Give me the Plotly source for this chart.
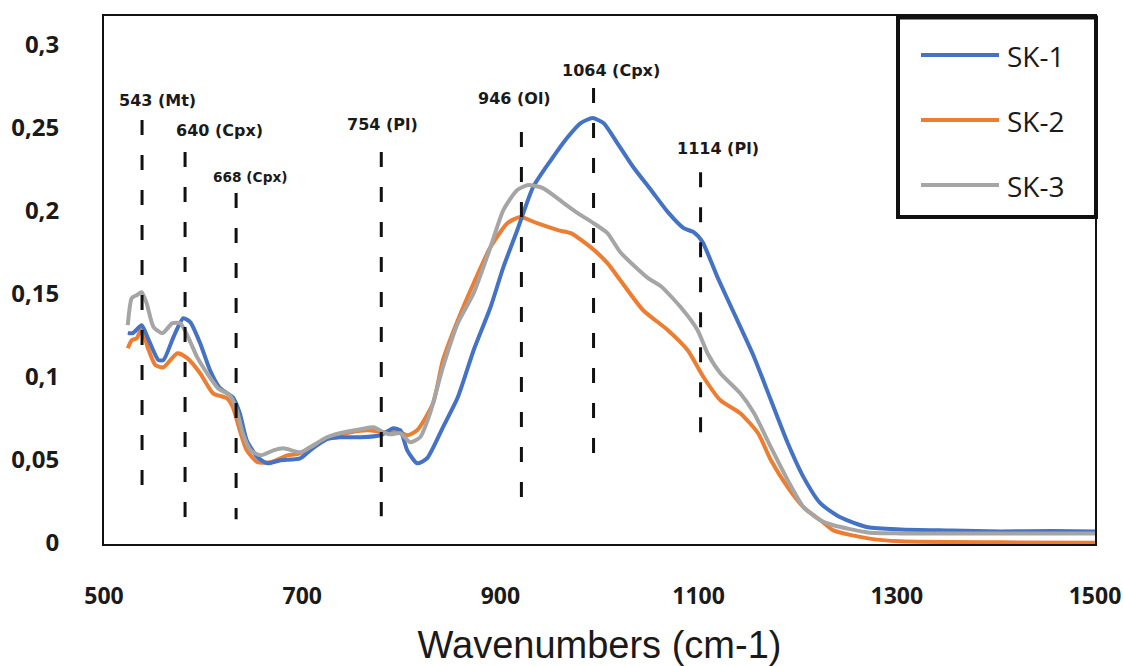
import plotly.graph_objects as go

# ---------------- data ----------------
series_names = ["SK-1", "SK-2", "SK-3"]
series_colors = ["#4472C4", "#ED7D31", "#A5A5A5"]

sk1_x = [524, 529, 538, 544, 555, 560, 570, 580, 587, 597, 607, 617, 630, 637, 644, 655, 665, 678,
         698, 708, 725, 738, 759, 779, 792, 799, 806, 816, 826, 842, 857, 873, 890, 903, 917, 933,
         951, 968, 981, 993, 1004, 1018, 1034, 1052, 1069, 1085, 1095, 1104, 1119, 1139, 1156,
         1173, 1190, 1206, 1223, 1243, 1271, 1304, 1355, 1405, 1456, 1500]
sk1_y = [0.1262, 0.1262, 0.1310, 0.1237, 0.1099, 0.1099, 0.1237, 0.1352, 0.1328, 0.1201, 0.1038,
         0.0930, 0.0875, 0.0779, 0.0616, 0.0513, 0.0477, 0.0495, 0.0507, 0.0555, 0.0622, 0.0634,
         0.0634, 0.0646, 0.0688, 0.0676, 0.0555, 0.0477, 0.0507, 0.0694, 0.0875, 0.1159, 0.1418,
         0.1660, 0.1883, 0.2143, 0.2306, 0.2445, 0.2529, 0.2559, 0.2529, 0.2408, 0.2264, 0.2125,
         0.1992, 0.1895, 0.1871, 0.1811, 0.1600, 0.1340, 0.1117, 0.0857, 0.0598, 0.0392, 0.0235,
         0.0151, 0.0091, 0.0078, 0.0072, 0.0066, 0.0068, 0.0066]

sk2_x = [524, 528, 533, 538, 544, 552, 560, 574, 584, 597, 610, 624, 630, 637, 644, 655, 668, 685,
         698, 708, 728, 749, 766, 782, 799, 806, 816, 832, 842, 857, 873, 890, 907, 920, 937, 958,
         971, 991, 1008, 1021, 1044, 1069, 1089, 1105, 1122, 1142, 1160, 1173, 1190, 1206, 1223,
         1236, 1271, 1304, 1405, 1500]
sk2_y = [0.1171, 0.1219, 0.1231, 0.1292, 0.1177, 0.1068, 0.1056, 0.1141, 0.1111, 0.1020, 0.0899,
         0.0869, 0.0815, 0.0676, 0.0555, 0.0483, 0.0483, 0.0525, 0.0537, 0.0573, 0.0634, 0.0664,
         0.0676, 0.0664, 0.0664, 0.0646, 0.0676, 0.0839, 0.1099, 0.1340, 0.1563, 0.1781, 0.1925,
         0.1962, 0.1925, 0.1883, 0.1865, 0.1781, 0.1684, 0.1581, 0.1400, 0.1280, 0.1159, 0.0996,
         0.0857, 0.0779, 0.0658, 0.0495, 0.0332, 0.0211, 0.0133, 0.0072, 0.0024, 0.0006, 0.0000,
         -0.0003]

sk3_x = [524, 528, 533, 538, 543, 550, 559, 569, 577, 585, 594, 604, 615, 627, 634, 640, 648, 658,
         671, 681, 698, 708, 725, 738, 759, 772, 782, 789, 799, 809, 819, 829, 842, 857, 873, 890,
         903, 917, 928, 943, 964, 978, 994, 1008, 1021, 1049, 1062, 1082, 1099, 1109, 1122, 1142,
         1156, 1173, 1190, 1206, 1223, 1236, 1271, 1304, 1405, 1500]
sk3_y = [0.1310, 0.1473, 0.1491, 0.1509, 0.1443, 0.1298, 0.1262, 0.1322, 0.1322, 0.1237, 0.1117,
         0.1020, 0.0930, 0.0887, 0.0797, 0.0658, 0.0555, 0.0525, 0.0555, 0.0567, 0.0543, 0.0573,
         0.0634, 0.0658, 0.0682, 0.0694, 0.0664, 0.0652, 0.0658, 0.0604, 0.0634, 0.0779, 0.1056,
         0.1322, 0.1503, 0.1781, 0.2004, 0.2125, 0.2155, 0.2137, 0.2046, 0.1986, 0.1925, 0.1865,
         0.1750, 0.1594, 0.1545, 0.1418, 0.1280, 0.1141, 0.1020, 0.0899, 0.0779, 0.0573, 0.0374,
         0.0211, 0.0133, 0.0103, 0.0060, 0.0054, 0.0054, 0.0054]

# band markers: label text, drawn position (wavenumber), dashed line top/bottom, label anchor
band_labels = ["543 (Mt)", "640 (Cpx)", "668 (Cpx)", "754 (Pl)", "946 (Ol)", "1064 (Cpx)", "1114 (Pl)"]
band_pos = [538.4, 581.8, 633.3, 779.8, 921.2, 994.0, 1102.0]
band_top = [0.2547, 0.2354, 0.2107, 0.2354, 0.2475, 0.2740, 0.2233]
band_bottom = [0.0344, 0.0151, 0.0139, 0.0157, 0.0272, 0.0537, 0.0543]
label_x = [553.5, 617.0, 647.5, 781.0, 914.0, 1012.0, 1120.0]
label_y = [0.2668, 0.2487, 0.2203, 0.2523, 0.2680, 0.2849, 0.2378]
label_size = [16, 16, 13.7, 16, 16, 16, 16]

x_ticks = [500, 700, 900, 1100, 1300, 1500]
y_ticks = [0, 0.05, 0.1, 0.15, 0.2, 0.25, 0.3]
y_ticktext = ["0", "0,05", "0,1", "0,15", "0,2", "0,25", "0,3"]
x_title = "Wavenumbers (cm-1)"

# ---------------- figure ----------------
fig = go.Figure()
all_x = [sk1_x, sk2_x, sk3_x]
all_y = [sk1_y, sk2_y, sk3_y]
# draw order: orange, blue, gray on top (as in the reference)
for i in [1, 0, 2]:
    fig.add_trace(go.Scatter(
        x=all_x[i], y=all_y[i], mode="lines", name=series_names[i],
        line=dict(color=series_colors[i], width=4, shape="spline", smoothing=0.6),
        showlegend=False, hoverinfo="x+y+name"))

shapes = []
annotations = []
for lbl, xp, yt, yb, lx, ly, fs in zip(band_labels, band_pos, band_top, band_bottom,
                                        label_x, label_y, label_size):
    shapes.append(dict(type="line", xref="x", yref="y", x0=xp, x1=xp, y0=yt, y1=yb,
                       line=dict(color="#111111", width=3, dash="15px,20px"), layer="above"))
    annotations.append(dict(x=lx, y=ly, xref="x", yref="y", text=lbl, showarrow=False,
                            font=dict(family="DejaVu Sans", size=fs, color="#1a1a1a",
                                      weight="bold"),
                            xanchor="center", yanchor="middle"))

# legend (box with long line samples, like the reference)
L, T, W, H = 104, 16, 991, 528  # plot-area geometry in pixels (margins below)
def px_x(p):
    return (p - L) / W
def px_y(p):
    return (T + H - p) / H

shapes.append(dict(type="rect", xref="paper", yref="paper",
                   x0=px_x(898), x1=px_x(1096), y0=px_y(17.5), y1=px_y(217),
                   line=dict(color="#111111", width=4), fillcolor="white", layer="above"))
for k, name in enumerate(series_names):
    yy = 55 + k * 65
    shapes.append(dict(type="line", xref="paper", yref="paper",
                       x0=px_x(921), x1=px_x(999), y0=px_y(yy), y1=px_y(yy),
                       line=dict(color=series_colors[k], width=4), layer="above"))
    annotations.append(dict(x=px_x(1005), y=px_y(yy + 1), xref="paper", yref="paper",
                            text=name, showarrow=False, xanchor="left", yanchor="middle",
                            font=dict(family="Open Sans", size=28, color="#1a1a1a")))

fig.update_layout(
    width=1123, height=666,
    margin=dict(l=L, r=1123 - L - W, t=T, b=666 - T - H),
    paper_bgcolor="white", plot_bgcolor="white",
    separators=", ",
    shapes=shapes, annotations=annotations,
    showlegend=False,
)
fig.update_xaxes(
    range=[500, 1500], tickvals=x_ticks, showgrid=False, zeroline=False,
    showline=True, linecolor="#111111", linewidth=2, mirror=True, ticks="",
    ticklabelstandoff=30,
    tickfont=dict(family="Open Sans", size=23, color="#1a1a1a", weight="bold"),
    title=dict(text=x_title, standoff=22,
               font=dict(family="Liberation Sans", size=38, color="#1a1a1a")),
    automargin=False,
)
fig.update_yaxes(
    range=[-0.001, 0.3175], tickvals=y_ticks, ticktext=y_ticktext, showgrid=False,
    zeroline=False, showline=True, linecolor="#111111", linewidth=2, mirror=True, ticks="",
    ticklabelstandoff=38,
    tickfont=dict(family="Open Sans", size=24, color="#1a1a1a", weight="bold"),
    automargin=False,
)

fig.write_html("out.html")
